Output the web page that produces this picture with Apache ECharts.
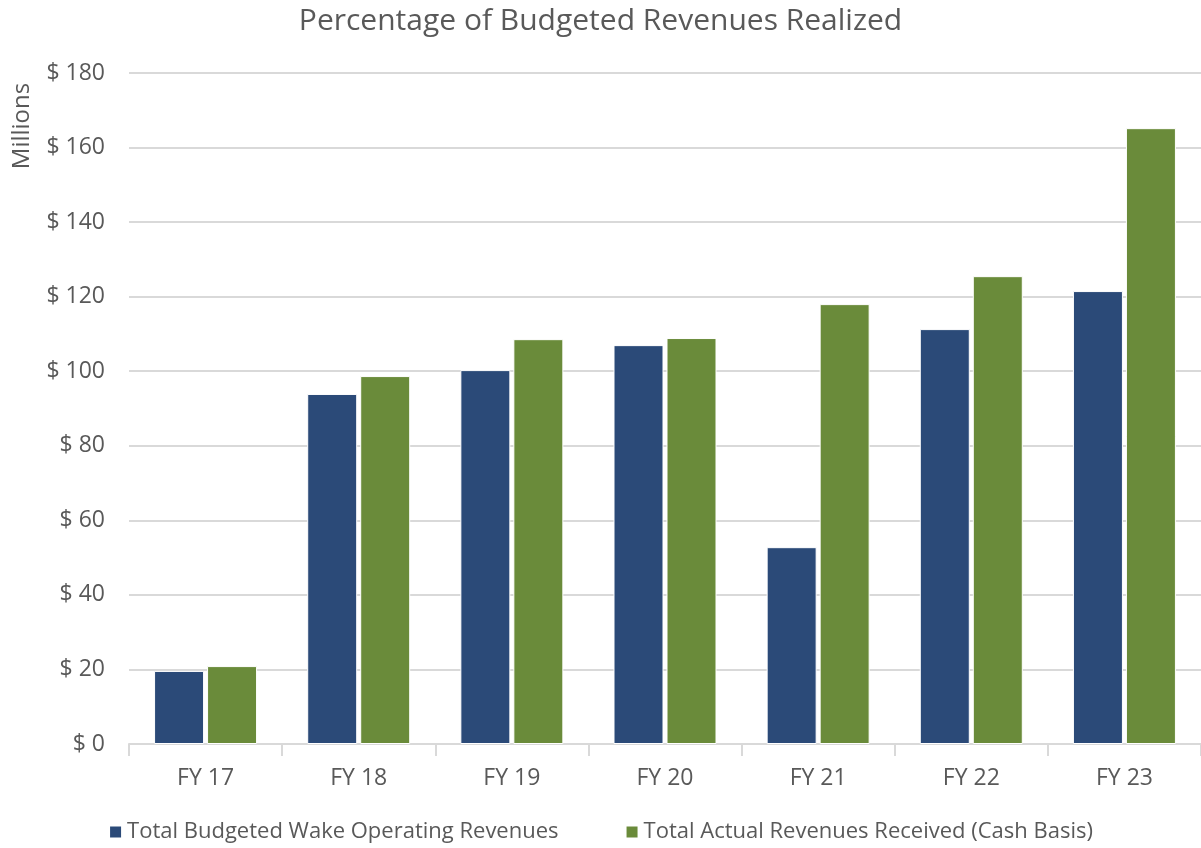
<!DOCTYPE html>
<html>
<head>
<meta charset="utf-8">
<script src="https://cdn.jsdelivr.net/npm/echarts@6/dist/echarts.min.js"></script>
<style>
  html, body { margin: 0; padding: 0; background: #fff; }
  #chart { width: 1201px; height: 848px; }
</style>
</head>
<body>
<div id="chart"></div>
<script>
// data (millions of dollars)
const categories = ['FY 17', 'FY 18', 'FY 19', 'FY 20', 'FY 21', 'FY 22', 'FY 23'];
const budgeted = [19.6, 93.9, 100.3, 107.0, 52.8, 111.3, 121.5];
const actual = [20.9, 98.7, 108.6, 108.9, 118.0, 125.5, 165.2];

const textColor = '#595959';
const font = '"Open Sans", "Noto Sans", sans-serif';

const chart = echarts.init(document.getElementById('chart'));

chart.setOption({
  animation: false,
  textStyle: { fontFamily: font },
  title: {
    text: 'Percentage of Budgeted Revenues Realized',
    left: 'center',
    top: 1,
    textStyle: { fontSize: 30, fontWeight: 'normal', color: textColor, fontFamily: font }
  },
  legend: {
    bottom: 0,
    left: 'center',
    itemGap: 66,
    itemWidth: 13,
    itemHeight: 13,
    icon: 'rect',
    textStyle: { fontSize: 22, color: textColor, fontFamily: font },
    data: ['Total Budgeted Wake Operating Revenues', 'Total Actual Revenues Received (Cash Basis)']
  },
  // rotated y-axis unit label
  graphic: [{
    type: 'text',
    x: 22,
    y: 126,
    rotation: Math.PI / 2,
    style: {
      text: 'Millions',
      fontSize: 24,
      fontFamily: font,
      fill: textColor,
      align: 'center',
      verticalAlign: 'middle'
    }
  }],
  grid: { left: 129, top: 73, width: 1078, height: 671 },
  xAxis: {
    type: 'category',
    data: categories,
    axisLine: { lineStyle: { color: '#d9d9d9', width: 2 } },
    axisTick: { show: true, length: 12, lineStyle: { color: '#d9d9d9', width: 2 } },
    axisLabel: { fontSize: 23, color: textColor, margin: 23, fontFamily: font }
  },
  yAxis: {
    type: 'value',
    min: 0,
    max: 180,
    interval: 20,
    axisLine: { show: false },
    axisTick: { show: false },
    splitLine: { lineStyle: { color: '#d9d9d9', width: 2 } },
    axisLabel: {
      fontSize: 23, color: textColor, margin: 24, fontFamily: font,
      formatter: v => '$ ' + v
    }
  },
  series: [
    {
      name: 'Total Budgeted Wake Operating Revenues',
      type: 'bar',
      data: budgeted,
      barWidth: 50,
      barGap: '6%',
      itemStyle: { color: '#2B4A78', borderColor: '#fff', borderWidth: 1 }
    },
    {
      name: 'Total Actual Revenues Received (Cash Basis)',
      type: 'bar',
      data: actual,
      barWidth: 50,
      barGap: '6%',
      itemStyle: { color: '#6A8B3A', borderColor: '#fff', borderWidth: 1 }
    }
  ]
});
</script>
</body>
</html>
